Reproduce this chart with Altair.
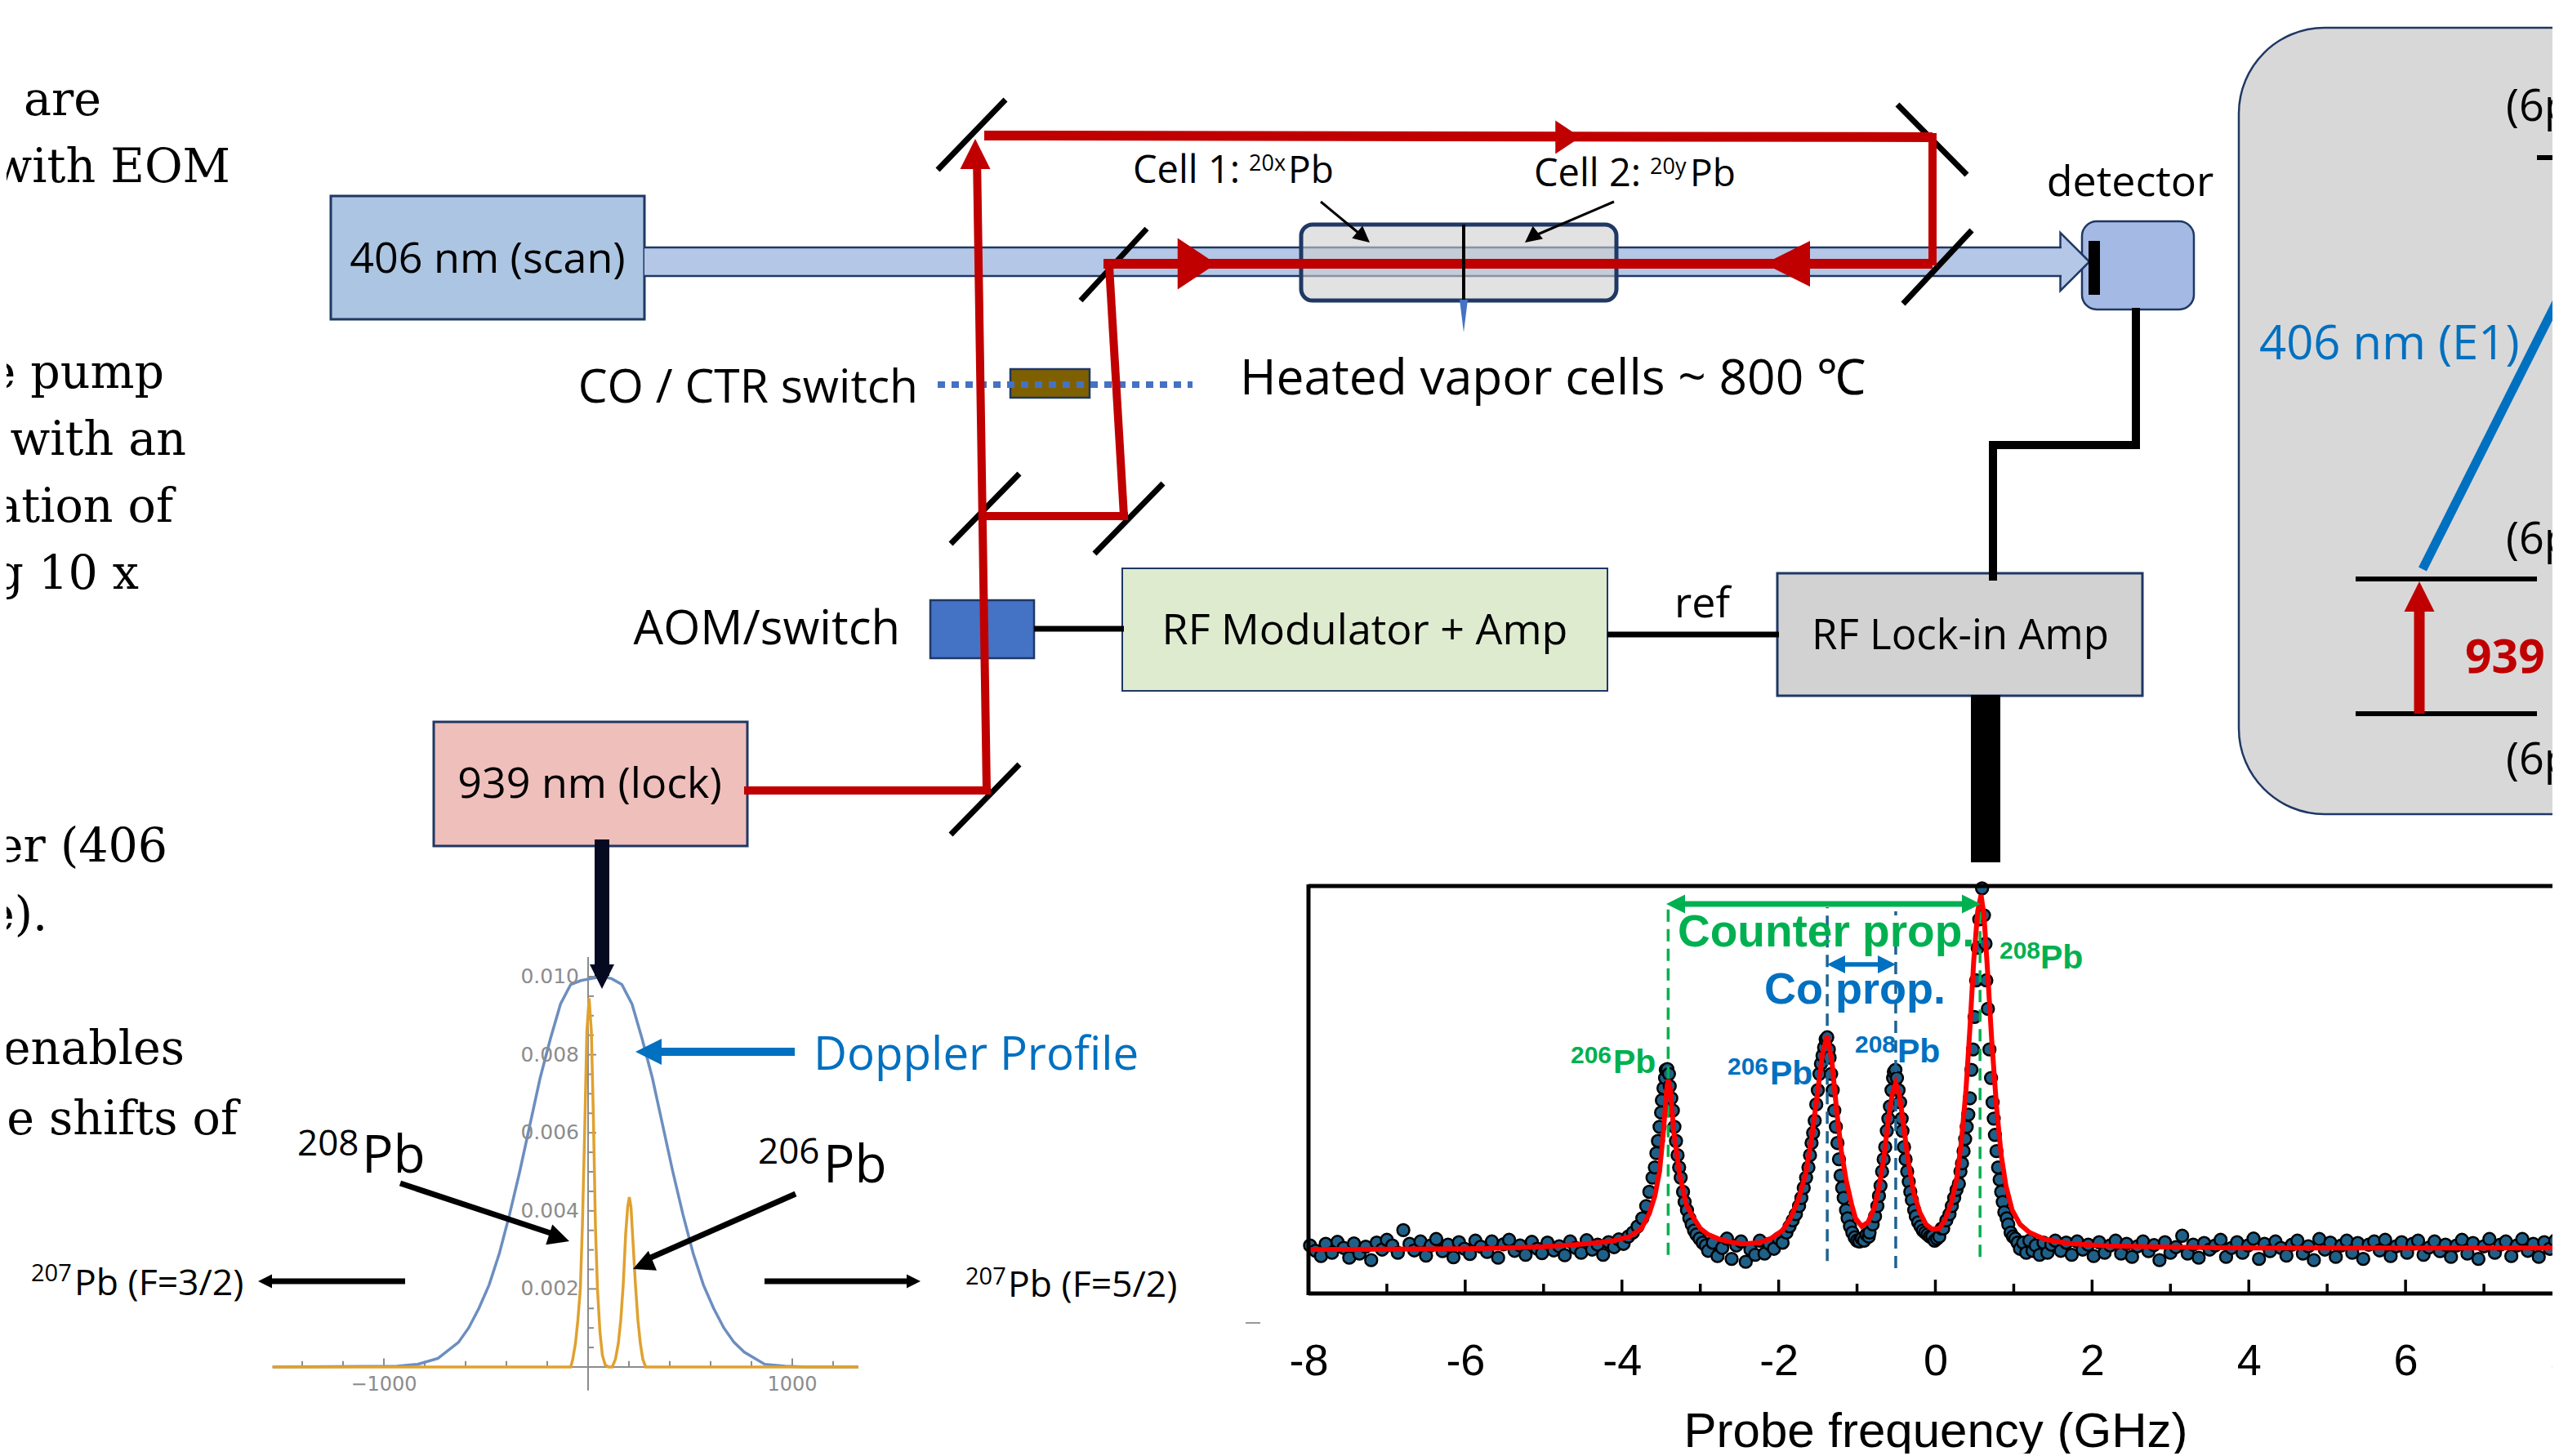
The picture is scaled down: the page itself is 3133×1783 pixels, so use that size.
import math
import altair as alt
import pandas as pd

W, H = 3117, 1772
NAVY = "#1F3864"
RED = "#C00000"
BLUE = "#0070C0"
GREEN = "#00B050"
GRAY = "#8A8A8A"
DOPBLUE = "#6C8EBF"
ORANGE = "#E0A12F"

# ---------- spectrum (frequency in GHz, signal relative to the frame) ----------
left_f = [-7.98,-7.91,-7.84,-7.78,-7.70,-7.63,-7.55,-7.48,-7.42,-7.35,-7.27,-7.20,-7.13,-7.06,-7.00,-6.93,-6.86,-6.79,-6.71,-6.65,-6.57,-6.50,-6.44,-6.37,-6.29,-6.22,-6.15,-6.08,-6.01,-5.94,-5.87,-5.80,-5.72,-5.66,-5.58,-5.51,-5.44,-5.37,-5.30,-5.23,-5.15,-5.08,-5.02,-4.95,-4.87,-4.80,-4.73,-4.66,-4.59,-4.52,-4.45,-4.38,-4.31,-4.24,-4.17,-4.10,-4.04,-3.98,-3.92]
left_s = [.118,.105,.092,.122,.100,.127,.112,.088,.123,.098,.115,.082,.125,.108,.132,.118,.100,.156,.122,.106,.128,.093,.118,.134,.104,.120,.089,.126,.110,.097,.130,.115,.102,.128,.088,.121,.132,.105,.118,.095,.127,.110,.099,.125,.106,.116,.094,.128,.112,.100,.131,.108,.120,.095,.126,.114,.133,.122,.140]
p1_f = [-3.86,-3.80,-3.74,-3.69,-3.65,-3.61,-3.58,-3.56,-3.54,-3.52,-3.50,-3.49,-3.47,-3.45,-3.44,-3.42,-3.40,-3.39,-3.37,-3.35,-3.33,-3.31,-3.29,-3.27,-3.25,-3.22,-3.20,-3.17,-3.14,-3.11,-3.08,-3.05,-3.01,-2.97,-2.93]
p1_s = [.15,.165,.185,.215,.25,.285,.31,.345,.375,.41,.445,.475,.505,.53,.55,.552,.54,.51,.48,.45,.41,.375,.34,.31,.285,.25,.225,.205,.185,.17,.155,.145,.135,.125,.118]
d1_f = [-2.90,-2.84,-2.78,-2.72,-2.66,-2.60,-2.54,-2.48,-2.42,-2.36,-2.30,-2.24,-2.18,-2.12,-2.06,-2.00,-1.95]
d1_s = [.105,.125,.092,.112,.135,.085,.118,.128,.078,.108,.095,.130,.098,.122,.110,.135,.125]
p2_f = [-1.90,-1.86,-1.82,-1.78,-1.74,-1.71,-1.68,-1.65,-1.62,-1.60,-1.58,-1.56,-1.54,-1.52,-1.50,-1.48,-1.46,-1.44,-1.42,-1.40,-1.38,-1.36,-1.35,-1.33,-1.31,-1.29,-1.27,-1.25,-1.23,-1.21,-1.19,-1.17,-1.14,-1.12,-1.09,-1.06,-1.03,-1.00,-0.97,-0.94,-0.91,-0.88,-0.85]
p2_s = [.15,.165,.18,.195,.215,.235,.26,.285,.31,.34,.37,.395,.425,.465,.50,.54,.565,.585,.605,.625,.63,.60,.58,.54,.50,.45,.41,.37,.33,.29,.26,.235,.205,.185,.165,.15,.138,.13,.128,.135,.13,.145,.14]
p3_f = [-0.84,-0.80,-0.77,-0.74,-0.72,-0.70,-0.68,-0.66,-0.64,-0.62,-0.60,-0.58,-0.56,-0.54,-0.53,-0.51,-0.49,-0.47,-0.45,-0.43,-0.42,-0.40,-0.38,-0.36,-0.34,-0.32,-0.30,-0.27,-0.25,-0.22,-0.19,-0.16,-0.13,-0.10,-0.07,-0.04,-0.01,0.02,0.05,0.08]
p3_s = [.15,.17,.19,.215,.24,.265,.30,.33,.36,.40,.43,.46,.50,.53,.545,.55,.53,.50,.47,.43,.40,.36,.33,.30,.275,.25,.23,.205,.19,.175,.165,.155,.15,.145,.14,.14,.13,.135,.14,.16]
p4_f = [0.10,0.14,0.18,0.21,0.24,0.27,0.30,0.32,0.34,0.36,0.38,0.40,0.42,0.44,0.46,0.48,0.50,0.52,0.54,0.56,0.596,0.62,0.64,0.65,0.67,0.69,0.71,0.73,0.745,0.76,0.78,0.80,0.82,0.84,0.86,0.88,0.91,0.93,0.96,0.99,1.02,1.05,1.08,1.12,1.16,1.20,1.24,1.28,1.33,1.38,1.43,1.48]
p4_s = [.16,.18,.195,.215,.235,.255,.27,.30,.32,.35,.38,.41,.44,.48,.55,.60,.68,.77,.85,.92,.996,.93,.86,.77,.70,.60,.53,.47,.43,.39,.35,.31,.28,.25,.225,.20,.185,.17,.15,.14,.135,.125,.11,.125,.10,.13,.105,.118,.095,.125,.10,.12]
right_f = [1.53,1.60,1.67,1.74,1.81,1.88,1.95,2.02,2.09,2.16,2.23,2.30,2.37,2.44,2.51,2.58,2.65,2.72,2.79,2.86,2.93,3.00,3.07,3.15,3.22,3.29,3.36,3.43,3.50,3.57,3.64,3.71,3.78,3.85,3.92,3.99,4.06,4.13,4.20,4.27,4.34,4.41,4.48,4.55,4.62,4.69,4.76,4.83,4.90,4.97,5.04,5.11,5.18,5.25,5.32,5.39,5.46,5.53,5.60,5.67,5.74,5.81,5.88,5.95,6.02,6.09,6.16,6.23,6.30,6.37,6.44,6.51,6.58,6.65,6.72,6.79,6.86,6.93,7.00,7.07,7.14,7.21,7.28,7.35,7.42,7.49,7.56,7.63,7.70,7.77,7.84,7.91,7.98]
right_s = [.13,.105,.125,.095,.128,.108,.12,.092,.126,.10,.118,.13,.098,.122,.09,.116,.128,.104,.119,.082,.126,.10,.114,.142,.098,.12,.088,.124,.108,.118,.132,.09,.112,.126,.10,.118,.135,.085,.122,.104,.128,.112,.093,.12,.13,.098,.116,.082,.134,.108,.125,.09,.118,.13,.10,.124,.085,.12,.128,.106,.132,.092,.116,.126,.10,.122,.13,.095,.113,.128,.104,.12,.09,.118,.132,.098,.124,.085,.116,.134,.10,.12,.128,.092,.118,.134,.105,.122,.09,.126,.11,.13,.118]

fit_f = [-8,-7,-6,-5.5,-5,-4.6,-4.3,-4.1,-3.9,-3.75,-3.65,-3.58,-3.52,-3.47,-3.43,-3.41,-3.38,-3.34,-3.27,-3.18,-3.1,-3.0,-2.9,-2.75,-2.6,-2.45,-2.25,-2.1,-1.95,-1.85,-1.75,-1.66,-1.58,-1.5,-1.44,-1.38,-1.32,-1.26,-1.2,-1.14,-1.07,-1.02,-0.94,-0.86,-0.78,-0.72,-0.66,-0.6,-0.55,-0.506,-0.46,-0.41,-0.35,-0.28,-0.2,-0.12,-0.04,0.05,0.12,0.2,0.27,0.33,0.39,0.44,0.49,0.54,0.583,0.62,0.67,0.72,0.78,0.84,0.9,0.98,1.08,1.2,1.4,1.7,2.2,3,4,6,8.2]
fit_s = [.108,.109,.110,.112,.115,.12,.125,.13,.14,.16,.197,.24,.30,.40,.50,.526,.50,.40,.30,.219,.19,.16,.145,.133,.126,.122,.125,.135,.155,.185,.23,.29,.38,.50,.59,.634,.57,.45,.35,.28,.22,.185,.165,.175,.21,.26,.33,.43,.49,.518,.49,.42,.33,.25,.20,.17,.158,.16,.18,.22,.28,.37,.50,.65,.82,.94,.98,.93,.78,.62,.46,.34,.265,.205,.17,.15,.133,.123,.117,.114,.112,.112,.112]

x_major = [-8,-6,-4,-2,0,2,4,6,8]
x_minor = [-7,-5,-3,-1,1,3,5,7]
dash_green = [(-3.41,.095,.955),(0.57,.09,.965)]
dash_blue = [(-1.38,.08,.95),(-0.506,.062,.94)]

# ---------- Doppler profile panel (detuning, density) ----------
dop_v = [-1545,-935,-835,-735,-635,-585,-535,-485,-435,-385,-335,-285,-235,-185,-135,-85,-35,15,65,115,165,215,265,315,365,415,465,515,565,615,665,715,765,865,965,1065,1324]
dop_y = [0,.00002,.00007,.00022,.00063,.001,.0015,.0021,.0029,.0039,.005,.0062,.0074,.0084,.0093,.0098,.0099,.00995,.01,.00995,.0098,.0093,.0084,.0074,.0062,.005,.0039,.0029,.0021,.0015,.001,.00063,.00038,.00007,.00002,0,0]
ora_v = [-1545,-85,-75,-62,-50,-38,-28,-16,-6,5,16,26,36,46,58,70,84,100,118,134,148,160,172,184,194,202,210,220,232,244,256,268,282,1324]
ora_y = [0,0,.0002,.0006,.0012,.002,.0036,.0062,.0086,.00945,.0086,.0064,.0036,.002,.0009,.0003,.00005,0,0,.0002,.0006,.0012,.0021,.0034,.0041,.00435,.0041,.0032,.0021,.0012,.0006,.0002,0,0]
dop_yticks_major = [.002,.004,.006,.008,.010]
dop_yticks_minor = [.0005,.001,.0015,.0025,.003,.0035,.0045,.005,.0055,.0065,.007,.0075,.0085,.009,.0095]
dop_xticks = [-1400,-1200,-800,-600,-400,-200,200,400,600,800,1200]
dop_xticks_major = [-1000,1000]
dop_ylabels = ["0.002","0.004","0.006","0.008","0.010"]

# ---------- diagram (page pixels) ----------
rect_rows = [
    # x, x2, y, y2, fill, stroke, strokeWidth, radius
    (2741,3400,34,997,"#D9D8D8",NAVY,2.5,105),
    (405,789,240,391,"#ABC5E2",NAVY,3,0),
    (531,915,884,1036,"#EFBFBC",NAVY,3,0),
    (1374,1968,696,846,"#DEEBCF",NAVY,2,0),
    (2176,2623,702,852,"#D2D2D2",NAVY,3,0),
    (1139,1266,735,806,"#4472C4",NAVY,2.5,0),
    (1237,1334,452,487,"#7F6000",NAVY,2.5,0),
    (2549,2686,271,379,"#A4B9E3",NAVY,2.5,18),
]
beam_rect = [(789,2526,303,338,"#B4C7E7")]
beam_edges = [(789,303,2524,303),(789,338,2524,338)]
beam_tip = [(2558,320.5,90,71,"#B4C7E7")]
cell_rect = [(1593,1979,275,368)]
det_bar = [(2557,2571,295,361,"#000000",None,0,0)]
thick_bars = [(2413,2449,851,1056,"#000000",None,0,0)]

mirrors = [(1148,208,1231,122),(1323,368,1404,280),(2323,128,2408,214),(2330,372,2414,282),
           (1164,666,1248,580),(1340,678,1424,592),(1164,1022,1248,936)]
red_thin = [(916,968,1208,968),(1208,968,1196,190),(1204,632,1376,632),(1376,632,1358,326),(2366,168,2366,320)]
red_thick = [(1205,166,2366,168),(1351,323,2366,323),(2366,323,2214,323)]
cables = [(1266,770,1376,770),(1968,777,2178,777)]
cable_det = [(2615,382,2615,545),(2615,545,2440,545),(2440,545,2440,706)]
divider = [(1792,275,1792,368)]
dotted = [(1148,471,1460,471)]
levels = [(2884,709,3106,709),(2884,874,3106,874),(3106,193,3140,193)]
blue_line = [(2966,697,3133,364)]
red_level = [(2962,874,2962,742)]
black_arrow = [(737,1028,737,1195)]
doppler_shaft = [(973,1288,800,1288)]
pb_arrows = [(490,1449,686,1514),(974,1462,790,1543),(496,1569,330,1569),(936,1569,1112,1569)]
cell_arrows = [(1617,247,1669,290),(1976,247,1878,289)]
green_shaft = [(2048,1107,2417,1107)]
blue_shaft = [(2244,1181,2314,1181)]
frame_rules = [(1602,1085,3140,1085),(1602,1584,3140,1584),(1602,1083,1602,1586)]
stray = [(1525,1620,1543,1620)]

heads = [
    # tip x, tip y, angle, length, colour
    (1194,170,0,37,RED),(2160,323,270,56,RED),
    (737,1211,180,30,"#050A20"),(778,1288,270,32,BLUE),
    (2962,712,0,37,RED),
    (2040,1107,270,23,GREEN),(2425,1107,90,23,GREEN),(2237,1181,270,22,BLUE),(2321,1181,90,22,BLUE),
    (697,1520,108,26,"#000000"),(775,1554,247,26,"#000000"),(316,1569,270,17,"#000000"),(1127,1569,90,17,"#000000"),
    (1677,297,130,20,"#000000"),(1867,297,232,20,"#000000"),
]
wide_heads = [(1935,168,90,41,RED),(1489,323,90,63,RED)]
needle = [(1792,407,180,10,"#4472C4")]

text_left = [
    # text, x, y, size, colour
    ("Cell 1:",1387,210,47,"#000"),("20x",1529,201,27,"#000"),("Pb",1577,210,46,"#000"),
    ("Cell 2:",1878,214,47,"#000"),("20y",2020,205,27,"#000"),("Pb",2069,214,46,"#000"),
    ("Heated vapor cells ~ 800 \u2103",1518,465,60.5,"#000"),
    ("(6p",3068,132,54,"#000"),("(6p",3068,662,54,"#000"),("(6p",3068,932,54,"#000"),
    ("Doppler Profile",996,1293,56.5,BLUE),("406 nm (E1)",2766,423,58,BLUE),
    ("207",38,1560,29,"#000"),("Pb (F=3/2)",91,1573,44.5,"#000"),
    ("207",1182,1564,29,"#000"),("Pb (F=5/2)",1234,1575,44.5,"#000"),
    ("208",364,1402,44,"#000"),("Pb",443,1417,64,"#000"),
    ("206",928,1412,44,"#000"),("Pb",1008,1429,64,"#000"),
]
text_center = [
    ("406 nm (scan)",597,318,52,"#000"),("939 nm (lock)",722,961,52,"#000"),
    ("RF Modulator + Amp",1671,773,52,"#000"),("RF Lock-in Amp",2400,780,51,"#000"),
    ("ref",2084,740,52,"#000"),("detector",2608,224,52,"#000"),
]
text_right = [("CO / CTR switch",1124,476,57,"#000"),("AOM/switch",1102,772,58,"#000")]
text_bold = [("939 nm",3018,807,57,RED)]
text_serif = [
    ("s are",124,124,57),("with EOM",282,206,57),("e pump",201,458,57),("with an",228,540,57),
    ("ation of",212,622,57),("g 10 x",170,704,57),("er (406",205,1038,57),("e).",58,1122,57),
    ("enables",226,1286,57),("e shifts of",291,1372,57),
]
spec_bold = [
    ("Counter prop.",2054,1142,55,GREEN),("Co prop.",2160,1213,54,BLUE),
    ("206",1923,1293,30,GREEN),("Pb",1975,1302,41,GREEN),
    ("206",2115,1307,30,BLUE),("Pb",2167,1316,41,BLUE),
    ("208",2271,1280,30,BLUE),("Pb",2323,1289,41,BLUE),
    ("208",2448,1165,30,GREEN),("Pb",2498,1174,41,GREEN),
]
dop_x_labels = [("\u22121000",-1000),("1000",1000)]

# ---------- scales ----------
px = alt.Scale(domain=[8, 8 + W], range=[0, W], nice=False, zero=False)
py = alt.Scale(domain=[8 + H, 8], range=[H, 0], nice=False, zero=False)
fx = alt.Scale(domain=[-8, 8], range=[1602 - 8, 3137 - 8], nice=False, zero=False)
fy = alt.Scale(domain=[0, 1], range=[1584 - 8, 1086 - 8], nice=False, zero=False)
dx = alt.Scale(domain=[-1000, 1000], range=[470 - 8, 970 - 8], nice=False, zero=False)
dy = alt.Scale(domain=[0, 0.01], range=[1674 - 8, 1196 - 8], nice=False, zero=False)


def rects(rows):
    out = []
    for x, x2, y, y2, fill, stroke, sw, r in rows:
        kw = dict(fill=fill, cornerRadius=r)
        if stroke:
            kw.update(stroke=stroke, strokeWidth=sw)
        out.append(alt.Chart(pd.DataFrame([dict(x=x, x2=x2, y=y, y2=y2)])).mark_rect(**kw).encode(
            x=alt.X("x:Q", scale=px, axis=None), x2="x2:Q", y=alt.Y("y:Q", scale=py, axis=None), y2="y2:Q"))
    return out


def rules(rows, color, width, dash=None, cap="butt"):
    kw = dict(color=color, strokeWidth=width, strokeCap=cap)
    if dash:
        kw["strokeDash"] = dash
    df = pd.DataFrame(rows, columns=["x", "y", "x2", "y2"])
    return alt.Chart(df).mark_rule(**kw).encode(
        x=alt.X("x:Q", scale=px, axis=None), x2="x2:Q", y=alt.Y("y:Q", scale=py, axis=None), y2="y2:Q")


def tri(rows, aspect=1.0, stroke=None):
    data = []
    for tx, ty, ang, L, c in rows:
        a = math.radians(ang)
        ln = L * aspect
        data.append(dict(x=tx - math.sin(a) * ln / 2, y=ty + math.cos(a) * ln / 2, a=ang, s=L * L, c=c))
    kw = dict(shape=f"M0,-{aspect}L-1,{aspect}L1,{aspect}Z", filled=True, opacity=1)
    if stroke:
        kw.update(stroke=stroke, strokeWidth=2.5)
    else:
        kw.update(strokeWidth=0)
    return alt.Chart(pd.DataFrame(data)).mark_point(**kw).encode(
        x=alt.X("x:Q", scale=px, axis=None), y=alt.Y("y:Q", scale=py, axis=None),
        angle=alt.Angle("a:Q", scale=None), size=alt.Size("s:Q", scale=None, legend=None),
        fill=alt.Fill("c:N", scale=None, legend=None))


def texts(rows, font, align="left", weight="normal", color=None):
    if len(rows[0]) == 4:
        rows = [r + ("#000",) for r in rows]
    df = pd.DataFrame(rows, columns=["t", "x", "y", "s", "c"])
    return alt.Chart(df).mark_text(font=font, align=align, baseline="middle", fontWeight=weight).encode(
        x=alt.X("x:Q", scale=px, axis=None), y=alt.Y("y:Q", scale=py, axis=None), text="t:N",
        size=alt.Size("s:Q", scale=None, legend=None), color=alt.Color("c:N", scale=None, legend=None))


def spec_xy(f, s):
    return pd.DataFrame({"f": f, "s": s})


FONT = "Open Sans"
layers = []
layers += rects(rect_rows)
layers.append(tri(beam_tip, 0.5, stroke=NAVY))
layers += rects([(*r, None, 0, 0) for r in beam_rect])
layers.append(rules(beam_edges, NAVY, 2.5))
layers.append(alt.Chart(pd.DataFrame([dict(x=a, x2=b, y=c, y2=d) for a, b, c, d in cell_rect])).mark_rect(
    fill="#CFCFCF", fillOpacity=0.6, stroke=NAVY, strokeWidth=5, cornerRadius=14).encode(
    x=alt.X("x:Q", scale=px, axis=None), x2="x2:Q", y=alt.Y("y:Q", scale=py, axis=None), y2="y2:Q"))
layers.append(rules(dotted, "#4472C4", 8, dash=[9, 8]))
layers.append(rules(mirrors, "#000000", 7))
layers.append(rules(red_thin, RED, 10, cap="square"))
layers.append(rules(red_thick, RED, 12))
layers.append(rules(cables, "#000000", 7))
layers.append(rules(cable_det, "#000000", 10, cap="square"))
layers.append(rules(divider, "#000000", 4))
layers += rects(det_bar + thick_bars)
layers.append(rules(levels, "#000000", 6))
layers.append(rules(blue_line, BLUE, 11))
layers.append(rules(red_level, RED, 13))
layers.append(rules(black_arrow, "#050A20", 18))
layers.append(rules(doppler_shaft, BLUE, 10))
layers.append(rules(cell_arrows, "#000000", 3))
layers.append(rules(stray, "#999999", 2))

# Doppler panel
dep = lambda rows: pd.DataFrame(rows, columns=["v", "v2", "y", "y2"])
dop_axes = [(0, 0, -.0006, .0105), (-1545, 1324, 0, 0)]
dop_ticks = [(0, 28, t, t) for t in dop_yticks_minor] + [(0, 40, t, t) for t in dop_yticks_major] \
    + [(t, t, 0, .00015) for t in dop_xticks] + [(t, t, 0, .00022) for t in dop_xticks_major]
layers.append(alt.Chart(dep(dop_axes + dop_ticks)).mark_rule(color="#8C8C8C", strokeWidth=2).encode(
    x=alt.X("v:Q", scale=dx, axis=None), x2="v2:Q", y=alt.Y("y:Q", scale=dy, axis=None), y2="y2:Q"))
layers.append(alt.Chart(pd.DataFrame({"v": dop_v, "y": dop_y})).mark_line(color=DOPBLUE, strokeWidth=3.5).encode(
    x=alt.X("v:Q", scale=dx, axis=None), y=alt.Y("y:Q", scale=dy, axis=None)))
layers.append(alt.Chart(pd.DataFrame({"v": ora_v, "y": ora_y})).mark_line(color=ORANGE, strokeWidth=3.5).encode(
    x=alt.X("v:Q", scale=dx, axis=None), y=alt.Y("y:Q", scale=dy, axis=None)))
layers.append(alt.Chart(pd.DataFrame({"t": dop_ylabels, "y": dop_yticks_major})).mark_text(
    font="DejaVu Sans", fontSize=25, color="#8C8C8C", align="right", baseline="middle").encode(
    x=alt.value(709 - 8), y=alt.Y("y:Q", scale=dy, axis=None), text="t:N"))
layers.append(alt.Chart(pd.DataFrame(dop_x_labels, columns=["t", "v"])).mark_text(
    font="DejaVu Sans", fontSize=24, color="#8C8C8C", align="center", baseline="middle").encode(
    x=alt.X("v:Q", scale=dx, axis=None), y=alt.value(1696 - 8), text="t:N"))
layers.append(rules(pb_arrows, "#000000", 7))

# spectrum
dots = spec_xy(left_f + p1_f + d1_f + p2_f + p3_f + p4_f + right_f,
               left_s + p1_s + d1_s + p2_s + p3_s + p4_s + right_s)
layers.append(alt.Chart(dots).mark_point(filled=True, fill="#1F6089", stroke="#000000", strokeWidth=2.5, size=220, opacity=1).encode(
    x=alt.X("f:Q", scale=fx, axis=None), y=alt.Y("s:Q", scale=fy, axis=None)))
layers.append(alt.Chart(pd.DataFrame(dash_green, columns=["f", "s", "s2"])).mark_rule(color=GREEN, strokeWidth=3.5, strokeDash=[15, 9]).encode(
    x=alt.X("f:Q", scale=fx, axis=None), y=alt.Y("s:Q", scale=fy, axis=None), y2="s2:Q"))
layers.append(alt.Chart(pd.DataFrame(dash_blue, columns=["f", "s", "s2"])).mark_rule(color="#1F6391", strokeWidth=3.5, strokeDash=[15, 9]).encode(
    x=alt.X("f:Q", scale=fx, axis=None), y=alt.Y("s:Q", scale=fy, axis=None), y2="s2:Q"))
layers.append(alt.Chart(spec_xy(fit_f, fit_s)).mark_line(color="#FF0000", strokeWidth=6).encode(
    x=alt.X("f:Q", scale=fx, axis=None), y=alt.Y("s:Q", scale=fy, axis=None)))
tick_df = pd.DataFrame([(t, 0, .034) for t in x_major] + [(t, 0, .024) for t in x_minor], columns=["f", "s", "s2"])
layers.append(alt.Chart(tick_df).mark_rule(color="#000000", strokeWidth=3.5).encode(
    x=alt.X("f:Q", scale=fx, axis=alt.Axis(
        values=x_major, orient="bottom", offset=-(8 + H - 1584), domain=False, ticks=False, grid=False,
        labelFont="Liberation Sans", labelFontSize=54, labelColor="#000", labelPadding=56,
        labelExpr="toString(datum.value)", labelFlush=False, labelOverlap=False, labelBound=False,
        title="Probe frequency (GHz)", titleFont="Liberation Sans", titleFontSize=60, titleFontWeight="normal",
        titleColor="#000", titlePadding=30)),
    y=alt.Y("s:Q", scale=fy, axis=None), y2="s2:Q"))
layers.append(rules(frame_rules, "#000000", 5))
layers.append(rules(green_shaft, GREEN, 7))
layers.append(rules(blue_shaft, BLUE, 5.5))

# heads
layers.append(tri(heads))
layers.append(tri(wide_heads, 0.75))
layers.append(tri(needle, 4.0))

# text
layers.append(texts(text_left, FONT))
layers.append(texts(text_center, FONT, align="center"))
layers.append(texts(text_right, FONT, align="right"))
layers.append(texts(text_bold, FONT, weight="bold"))
layers.append(texts(text_serif, "DejaVu Serif", align="right"))
layers.append(texts(spec_bold, "Liberation Sans", weight="bold"))

chart = alt.layer(*layers).resolve_scale(x="independent", y="independent", size="independent", color="independent", fill="independent").properties(
    width=W, height=H, padding=0, autosize="none", background="white"
).configure_view(stroke=None)

chart.save("out.html", embed_options={"renderer": "svg", "actions": False})
